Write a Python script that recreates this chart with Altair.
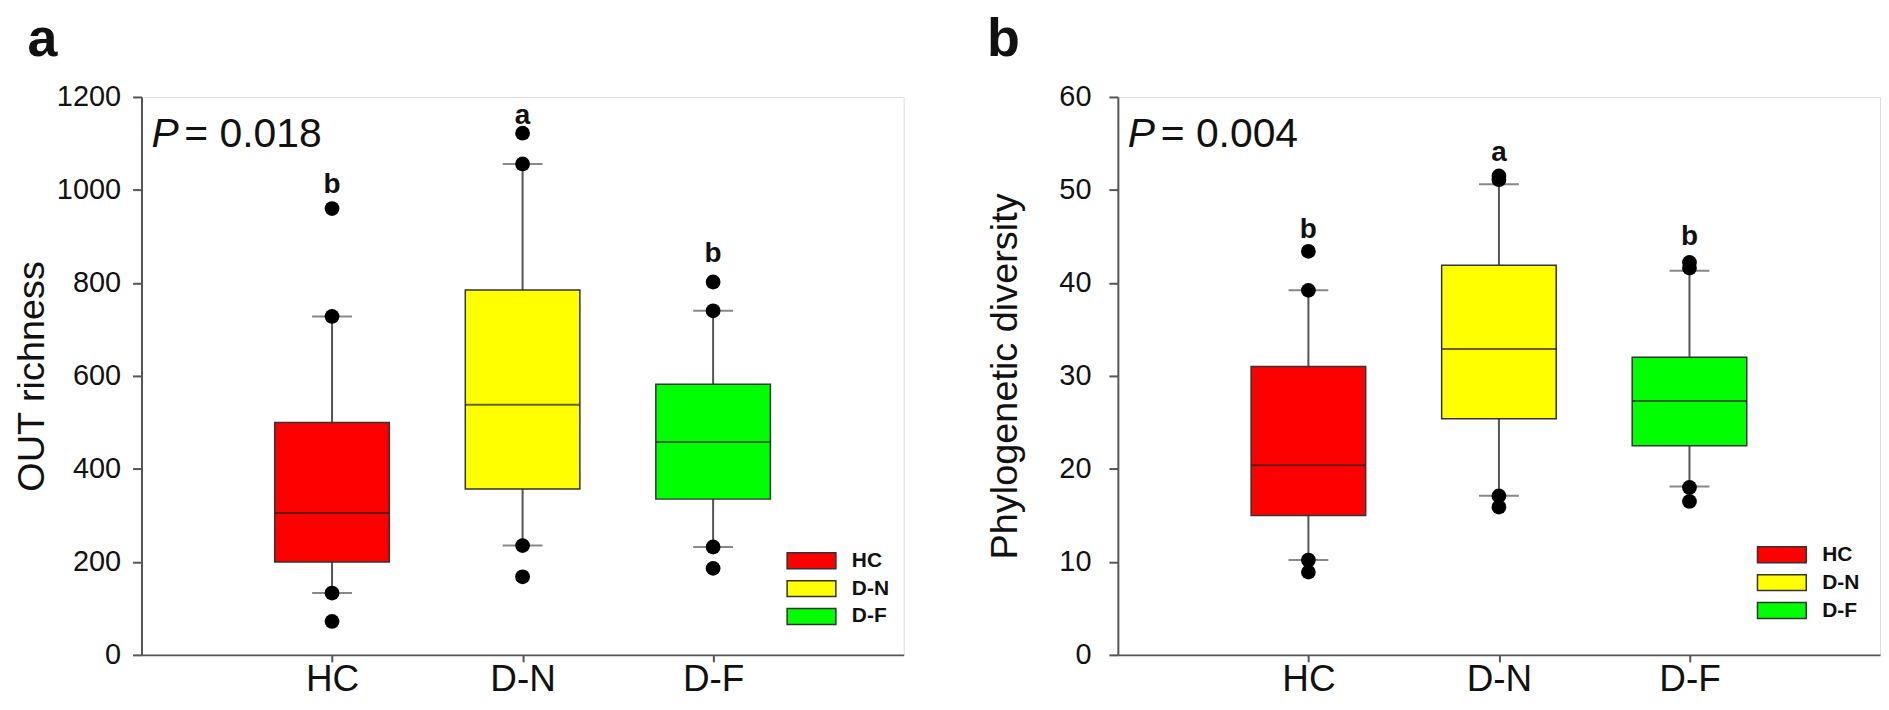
import altair as alt
import pandas as pd

FONT = "Liberation Sans, Arial, Helvetica, sans-serif"

CATS = ["HC", "D-N", "D-F"]
COLORS = ["#FF0000", "#FFFF00", "#00FF00"]

# Panel a: OUT richness
A_Q1 = [200, 357, 335]
A_MED = [305, 538, 458]
A_Q3 = [500, 785, 582]
A_LO = [133, 235, 232]
A_HI = [728, 1056, 740]
A_OUT = [[960, 728, 133, 72], [1122, 1056, 235, 168], [802, 740, 232, 186]]
A_LET = ["b", "a", "b"]
A_LET_Y = [1010, 1160, 862]
A_P = "= 0.018"

# Panel b: Phylogenetic diversity
B_Q1 = [15.0, 25.4, 22.5]
B_MED = [20.4, 32.9, 27.3]
B_Q3 = [31.0, 41.9, 32.0]
B_LO = [10.2, 17.1, 18.1]
B_HI = [39.2, 50.6, 41.3]
B_OUT = [[43.4, 39.2, 10.2, 8.9], [51.5, 51.1, 17.1, 15.9], [42.2, 41.6, 18.0, 16.5]]
B_LET = ["b", "a", "b"]
B_LET_Y = [45.7, 54.0, 44.9]
B_P = "= 0.004"

W = 765
H = 560
RECT_PATH = "M-3.06,-1H3.06V1H-3.06Z"


def panel(q1, med, q3, lo, hi, outs, letters, letter_y, ytitle, ymax, ystep,
          ptext, tag, tag_dx, label_pad, title_pad, legend_x, legend_y):
    box_df = pd.DataFrame({"cat": CATS, "q1": q1, "med": med, "q3": q3,
                           "lo": lo, "hi": hi, "let": letters, "ly": letter_y})
    out_rows = []
    for c, vals in zip(CATS, outs):
        for v in vals:
            out_rows.append({"cat": c, "v": v})
    out_df = pd.DataFrame(out_rows)

    xenc = alt.X("cat:N",
                 scale=alt.Scale(type="point", padding=1, domain=CATS),
                 axis=alt.Axis(title=None, labelAngle=0, labelFontSize=37,
                               labelFont=FONT, labelColor="#111",
                               tickSize=7, tickWidth=2, tickColor="#555",
                               domainColor="#555", domainWidth=2,
                               labelPadding=0, grid=False))
    yscale = alt.Scale(domain=[0, ymax], nice=False, zero=True)
    yaxis = alt.Axis(title=ytitle, values=list(range(0, ymax + 1, ystep)),
                     format="d",
                     grid=False, tickSize=9, tickWidth=2, tickColor="#555",
                     domainColor="#555", domainWidth=2,
                     labelFontSize=29, labelFont=FONT, labelColor="#111",
                     labelPadding=label_pad, titleFontSize=38, titleFont=FONT,
                     titleFontWeight="normal", titleColor="#111",
                     titlePadding=title_pad)

    base = alt.Chart(box_df)
    whisk = base.mark_rule(color="#555", strokeWidth=2).encode(
        x=xenc, y=alt.Y("lo:Q", scale=yscale, axis=yaxis), y2="hi:Q")
    caps_lo = base.mark_tick(color="#555", size=40, thickness=2).encode(
        x="cat:N", y="lo:Q")
    caps_hi = base.mark_tick(color="#555", size=40, thickness=2).encode(
        x="cat:N", y="hi:Q")
    box = base.mark_bar(size=115, stroke="#333", strokeWidth=1.5, opacity=1).encode(
        x="cat:N", y="q1:Q", y2="q3:Q",
        color=alt.Color("cat:N",
                        scale=alt.Scale(domain=CATS, range=COLORS),
                        legend=alt.Legend(title=None, orient="none",
                                          legendX=legend_x, legendY=legend_y,
                                          symbolType=RECT_PATH, symbolSize=256,
                                          symbolStrokeColor="#333",
                                          symbolStrokeWidth=1.5,
                                          symbolOpacity=1,
                                          labelFontSize=21, labelFont=FONT,
                                          labelFontWeight="bold",
                                          labelColor="#111",
                                          labelOffset=30, rowPadding=5,
                                          padding=0)))
    medl = base.mark_tick(color="#222", size=115, thickness=2).encode(
        x="cat:N", y="med:Q")
    pts = alt.Chart(out_df).mark_circle(size=220, color="#000", opacity=1).encode(
        x="cat:N", y="v:Q")
    lets = base.mark_text(fontSize=28, fontWeight="bold", font=FONT,
                          color="#111", baseline="middle").encode(
        x="cat:N", y="ly:Q", text="let:N")
    one = alt.Chart(pd.DataFrame({"k": [0]}))
    p1 = one.mark_text(text="P", fontSize=41, fontStyle="italic", font=FONT,
                       color="#111", align="left", baseline="alphabetic").encode(
        x=alt.value(10), y=alt.value(50))
    p2 = one.mark_text(text=ptext, fontSize=41, font=FONT, color="#111",
                       align="left", baseline="alphabetic").encode(
        x=alt.value(43), y=alt.value(50))

    return alt.layer(whisk, box, medl, caps_lo, caps_hi, pts, lets, p1, p2).properties(
        width=W, height=H,
        title=alt.TitleParams(tag, anchor="start", frame="bounds", fontSize=54,
                              fontWeight="bold", font=FONT, color="#111",
                              offset=16, dx=tag_dx))


pa = panel(A_Q1, A_MED, A_Q3, A_LO, A_HI, A_OUT, A_LET, A_LET_Y,
           "OUT richness", 1200, 200, A_P, "a", 14, 12, 5, 662, 455)
pb = panel(B_Q1, B_MED, B_Q3, B_LO, B_HI, B_OUT, B_LET, B_LET_Y,
           "Phylogenetic diversity", 60, 10, B_P, "b", 0, 18, 34, 656, 449)

chart = alt.hconcat(pa, pb, spacing=82).resolve_scale(
    color="independent").configure_view(
    stroke="#555", strokeWidth=2).properties(
    padding={"left": 4, "top": 3, "right": 0, "bottom": 0}).configure(font=FONT)

chart.save("out.html", embed_options={"renderer": "svg", "actions": False})
